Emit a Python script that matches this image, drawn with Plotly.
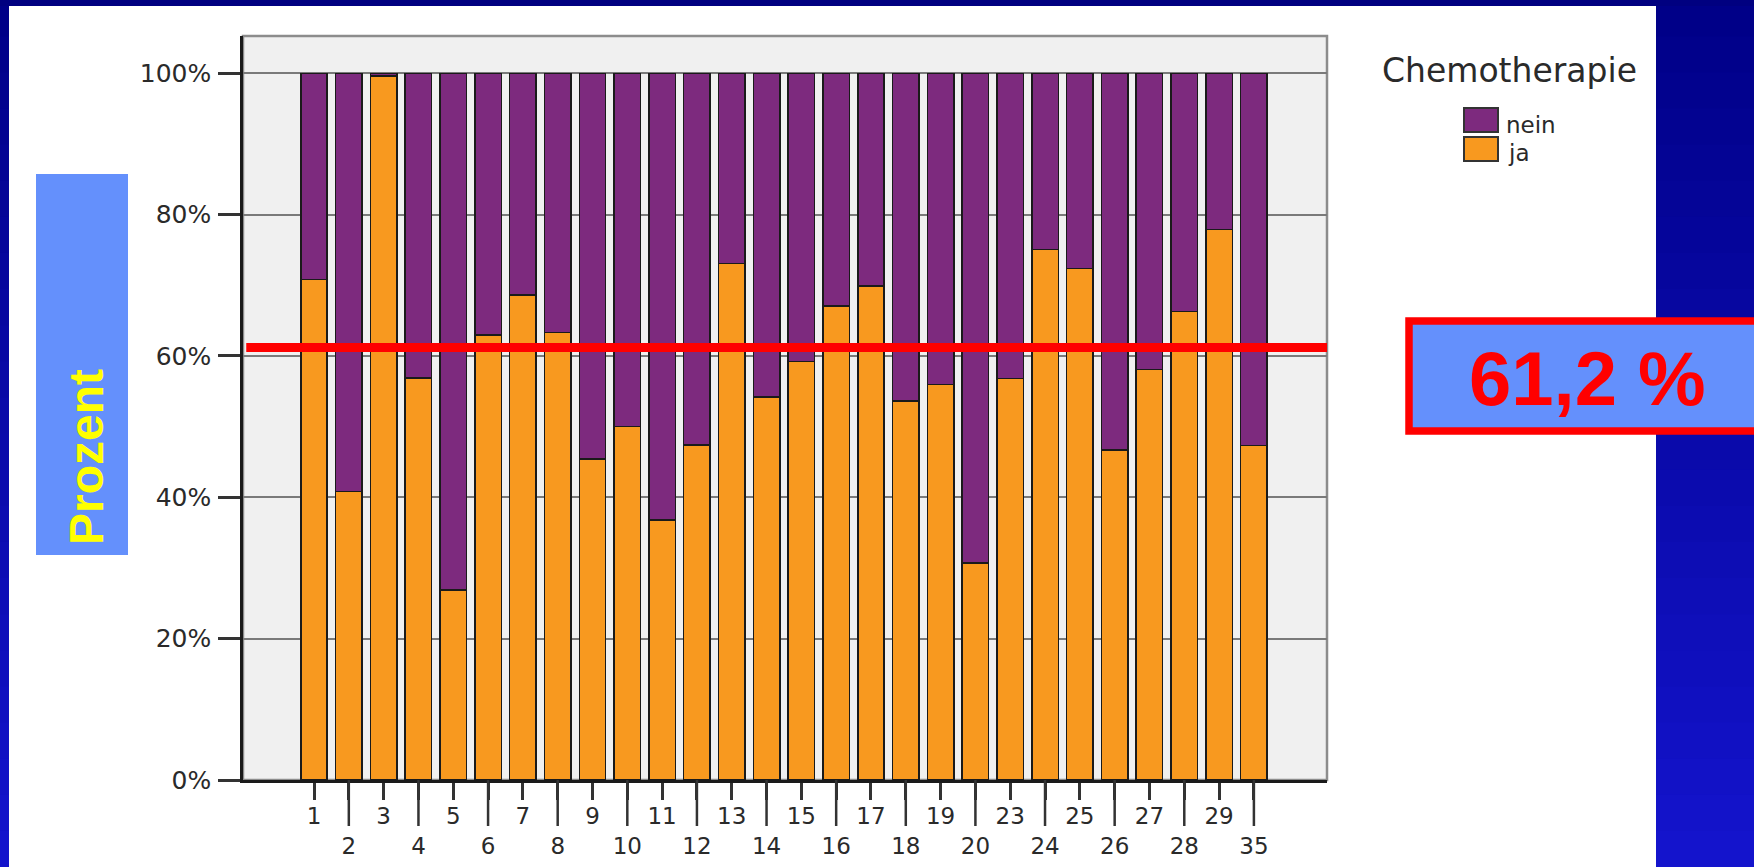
"""Chemotherapie-Anteil je Kategorie als gestapelte 100%-Säulen (ja / nein)
mit Mittelwert-Linie bei 61,2 %, im Stil einer Präsentationsfolie."""
import plotly.graph_objects as go

# ── Daten ────────────────────────────────────────────────────────────
CATEGORIES = [
    "1", "2", "3", "4", "5", "6", "7", "8", "9", "10",
    "11", "12", "13", "14", "15", "16", "17", "18", "19", "20",
    "23", "24", "25", "26", "27", "28", "29", "35",
]
JA_PCT = [
    70.8, 40.8, 99.6, 56.9, 26.9, 63.0, 68.6, 63.3, 45.4, 50.0,
    36.8, 47.4, 73.1, 54.2, 59.2, 67.1, 69.9, 53.6, 56.0, 30.7,
    56.8, 75.1, 72.4, 46.7, 58.1, 66.3, 77.9, 47.3,
]
NEIN_PCT = [
    29.2, 59.2, 0.4, 43.1, 73.1, 37.0, 31.4, 36.7, 54.6, 50.0,
    63.2, 52.6, 26.9, 45.8, 40.8, 32.9, 30.1, 46.4, 44.0, 69.3,
    43.2, 24.9, 27.6, 53.3, 41.9, 33.7, 22.1, 52.7,
]
MEAN_PCT = 61.2
MEAN_LABEL = "61,2 %"
Y_TICKS = [0, 20, 40, 60, 80, 100]
Y_TICK_LABELS = ["0%", "20%", "40%", "60%", "80%", "100%"]

# ── Stil ─────────────────────────────────────────────────────────────
PURPLE = "#7D2A7E"
ORANGE = "#F8991F"
BOX_BLUE = "#6490FC"
TEXT = "#2a2a2a"
AXIS_FONT = "DejaVu Sans, Verdana, sans-serif"
BOLD_FONT = "Liberation Sans, Arial, sans-serif"

W, H = 1754, 867
PLOT_L, PLOT_R, PLOT_T, PLOT_B = 243, 1327, 36, 780
WHITE_L, WHITE_R, WHITE_T = 9, 1656, 6


def px(x):
    """Pixel x -> paper x."""
    return (x - PLOT_L) / (PLOT_R - PLOT_L)


def py(y):
    """Pixel y (from top) -> paper y."""
    return (PLOT_B - y) / (PLOT_B - PLOT_T)


idx = list(range(len(CATEGORIES)))
# Odd positions (1, 3, 5 ...) in the first row, even ones in the second row
tick_text = [c if i % 2 == 0 else "<br>" + c for i, c in enumerate(CATEGORIES)]

fig = go.Figure()
fig.add_trace(go.Bar(
    x=idx, y=JA_PCT, name="ja",
    width=0.76,
    marker=dict(color=ORANGE, line=dict(color="#1a1a1a", width=1.5)),
    showlegend=False,
))
fig.add_trace(go.Bar(
    x=idx, y=NEIN_PCT, name="nein",
    width=0.76,
    marker=dict(color=PURPLE, line=dict(color="#1a1a1a", width=1.5)),
    showlegend=False,
))

shapes = []

# ── Folienhintergrund: blauer Verlauf links / rechts, Band oben ──────
n_strips = 24
for k in range(n_strips):
    t = (k + 0.5) / n_strips
    col = f"rgb({round(20 * t)}, {round(20 * t)}, {round(135 + 70 * t)})"
    y0, y1 = H * k / n_strips, H * (k + 1) / n_strips + 1
    for x0, x1 in [(-2, WHITE_L), (WHITE_R, W + 4)]:
        shapes.append(dict(
            type="rect", xref="paper", yref="paper",
            x0=px(x0), x1=px(x1), y0=py(y1), y1=py(y0),
            fillcolor=col, line=dict(width=0), layer="below",
        ))
shapes.append(dict(
    type="rect", xref="paper", yref="paper",
    x0=px(-2), x1=px(W + 4), y0=py(WHITE_T), y1=py(-2),
    fillcolor="#000080", line=dict(width=0), layer="below",
))

# ── Rahmen des Diagrammbereichs ──────────────────────────────────────
shapes.append(dict(
    type="rect", xref="x domain", yref="y domain",
    x0=0, x1=1, y0=0, y1=1,
    line=dict(color="#8c8c8c", width=2.5), layer="below",
))

# ── Lange Striche für die zweite Beschriftungszeile ─────────────────
for i in idx:
    if i % 2 == 1:
        shapes.append(dict(
            type="line", xref="x", yref="y domain",
            x0=i, x1=i, y0=0, y1=-46 / (PLOT_B - PLOT_T),
            line=dict(color="#333333", width=2.5),
        ))

# ── Mittelwert-Linie ─────────────────────────────────────────────────
shapes.append(dict(
    type="line", xref="x domain", yref="y",
    x0=0.003, x1=1, y0=MEAN_PCT, y1=MEAN_PCT,
    line=dict(color="#FF0000", width=9), layer="above",
))

# ── Kästen "Prozent" und "61,2 %" ────────────────────────────────────
shapes.append(dict(
    type="rect", xref="paper", yref="paper",
    x0=px(36), x1=px(128), y0=py(555), y1=py(174),
    fillcolor=BOX_BLUE, line=dict(width=0),
))
shapes.append(dict(
    type="rect", xref="paper", yref="paper",
    x0=px(1409), x1=px(W + 10), y0=py(431), y1=py(321),
    fillcolor=BOX_BLUE, line=dict(color="#FF0000", width=7.5),
))

# ── Legende (eigene Kästchen wie im Original) ───────────────────────
for label, color, (y_top, y_bot) in [("nein", PURPLE, (108, 132)), ("ja", ORANGE, (137, 161))]:
    shapes.append(dict(
        type="rect", xref="paper", yref="paper",
        x0=px(1464), x1=px(1498), y0=py(y_bot), y1=py(y_top),
        fillcolor=color, line=dict(color="#333333", width=2),
    ))

annotations = [
    dict(text="Chemotherapie", x=px(1380), y=py(71), xref="paper", yref="paper",
         xanchor="left", yanchor="middle", showarrow=False,
         font=dict(family=AXIS_FONT, size=33, color=TEXT)),
    dict(text="nein", x=px(1504), y=py(125), xref="paper", yref="paper",
         xanchor="left", yanchor="middle", showarrow=False,
         font=dict(family=AXIS_FONT, size=23, color=TEXT)),
    dict(text="ja", x=px(1506), y=py(153), xref="paper", yref="paper",
         xanchor="left", yanchor="middle", showarrow=False,
         font=dict(family=AXIS_FONT, size=23, color=TEXT)),
    dict(text="Prozent", x=px(86), y=py(457), xref="paper", yref="paper",
         xanchor="center", yanchor="middle", textangle=-90, showarrow=False,
         font=dict(family=BOLD_FONT, size=48, color="#FFFF00", weight="bold")),
    dict(text=MEAN_LABEL, x=px(1587), y=py(378), xref="paper", yref="paper",
         xanchor="center", yanchor="middle", showarrow=False,
         font=dict(family=BOLD_FONT, size=76, color="#FF0000", weight="bold")),
]

fig.update_layout(
    width=W, height=H,
    margin=dict(l=PLOT_L, r=W - PLOT_R, t=PLOT_T, b=H - PLOT_B, pad=0),
    paper_bgcolor="white",
    plot_bgcolor="#F0F0F0",
    barmode="stack",
    showlegend=False,
    shapes=shapes,
    annotations=annotations,
    xaxis=dict(
        range=[-2.04, 29.1],
        tickmode="array", tickvals=idx, ticktext=tick_text,
        tickangle=0,
        ticks="outside", ticklen=17, tickwidth=2.5, tickcolor="#333333",
        ticklabelstandoff=-3,
        tickfont=dict(family=AXIS_FONT, size=23, color=TEXT),
        showline=True, linecolor="#1a1a1a", linewidth=2.5,
        showgrid=False, zeroline=False, fixedrange=True, automargin=False,
    ),
    yaxis=dict(
        range=[0, 105.28],
        tickmode="array", tickvals=Y_TICKS, ticktext=Y_TICK_LABELS,
        ticks="outside", ticklen=22, tickwidth=2.5, tickcolor="#333333",
        ticklabelstandoff=2,
        tickfont=dict(family=AXIS_FONT, size=25, color=TEXT),
        showline=True, linecolor="#1a1a1a", linewidth=2.5,
        showgrid=True, gridcolor="#7a7a7a", gridwidth=2,
        zeroline=False, fixedrange=True, automargin=False,
    ),
)

fig.write_html(
    "out.html",
    config={"displayModeBar": False},
    post_script="document.body.style.margin='0';document.body.style.overflow='hidden';",
)
